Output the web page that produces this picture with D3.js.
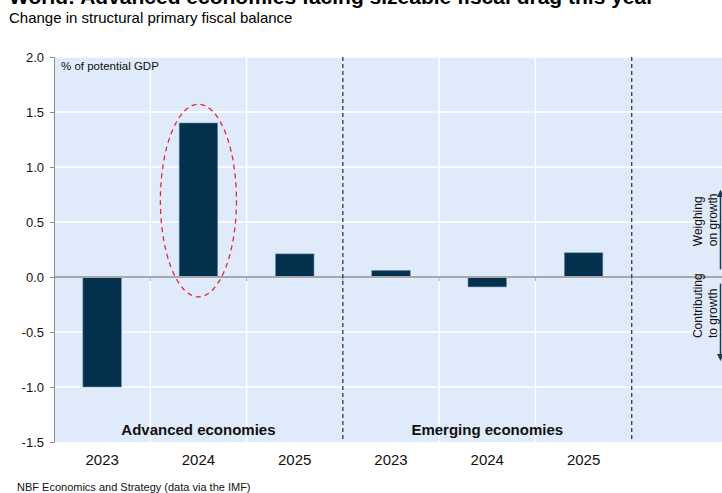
<!doctype html>
<html>
<head>
<meta charset="utf-8"/>
<title>World: Advanced economies facing sizeable fiscal drag this year</title>
<script src="https://d3js.org/d3.v7.min.js"></script>
<style>
body{margin:0;background:#fff;}
svg{display:block;font-family:"Liberation Sans",Arial,sans-serif;}
</style>
</head>
<body>
<script>
// data
var years = ["2023","2024","2025","2023","2024","2025",""];
var values = [-1.0, 1.4, 0.21, 0.06, -0.09, 0.22, null];
var groups = ["Advanced economies","Emerging economies"];
var groupSpan = [[0,3],[3,6]];   // band index range of each group
var yTicks = [-1.5,-1.0,-0.5,0.0,0.5,1.0,1.5,2.0];
var highlight = {index:1, top:1.57, bottom:-0.18};
var arrowUp = [0.07, 0.76], arrowDown = [-0.06, -0.73];
var noteUp = ["Weighing","on growth"], noteDown = ["Contributing","to growth"];
var noteBase = [0.28, -0.555];   // where the rotated notes start

var W = 722, H = 493;
var svg = d3.select("body").append("svg").attr("width", W).attr("height", H);

var pL = 54, pR = 728, pT = 57, pB = 442;
var x = d3.scaleBand().domain(d3.range(years.length)).range([pL, pR])
  .paddingInner(0.6).paddingOuter(0.3);
var step = x.step();
var edge = function(i){ return pL + i*step; };
var y = d3.scaleLinear().domain([-1.5, 2.0]).range([pB, pT]);

// titles
svg.append("text").attr("x", 9).attr("y", 4).attr("font-size", 21).attr("font-weight", "bold")
  .attr("fill", "#000").text("World: Advanced economies facing sizeable fiscal drag this year");
svg.append("text").attr("x", 9).attr("y", 23).attr("font-size", 15).attr("fill", "#000")
  .text("Change in structural primary fiscal balance");

// plot background
svg.append("rect").attr("x", pL).attr("y", pT).attr("width", pR-pL).attr("height", pB-pT)
  .attr("fill", "#dfeafb");

// horizontal grid
svg.append("g").selectAll("line").data(yTicks.filter(function(d){return d!==0 && d!==-1.5;}))
  .enter().append("line")
  .attr("x1", pL).attr("x2", pR).attr("y1", function(d){return y(d);}).attr("y2", function(d){return y(d);})
  .attr("stroke", "#fff").attr("stroke-width", 1.5);

// vertical grid at band boundaries (not where dashed separators are)
var sepIdx = [3, 6];
svg.append("g").selectAll("line").data(d3.range(1, years.length+1).filter(function(i){return sepIdx.indexOf(i) < 0;}))
  .enter().append("line")
  .attr("x1", function(i){return edge(i);}).attr("x2", function(i){return edge(i);})
  .attr("y1", pT).attr("y2", pB).attr("stroke", "#fff").attr("stroke-width", 1.5);

// bars
svg.append("g").selectAll("rect").data(values.map(function(v,i){return {v:v,i:i};}).filter(function(d){return d.v!==null;}))
  .enter().append("rect")
  .attr("x", function(d){return x(d.i);})
  .attr("width", x.bandwidth())
  .attr("y", function(d){return y(Math.max(0, d.v));})
  .attr("height", function(d){return Math.abs(y(d.v) - y(0));})
  .attr("fill", "#02304d").attr("stroke", "#6f8ea6").attr("stroke-width", 0.6);

// zero line + ticks
svg.append("line").attr("x1", pL).attr("x2", W).attr("y1", y(0)).attr("y2", y(0))
  .attr("stroke", "#a8a8a8").attr("stroke-width", 2);
svg.append("g").selectAll("line").data(d3.range(1, years.length))
  .enter().append("line")
  .attr("x1", function(i){return edge(i);}).attr("x2", function(i){return edge(i);})
  .attr("y1", y(0)).attr("y2", y(0)+4).attr("stroke", "#a8a8a8").attr("stroke-width", 1);

// dashed separators
svg.append("g").selectAll("line").data(sepIdx)
  .enter().append("line")
  .attr("x1", function(i){return edge(i);}).attr("x2", function(i){return edge(i);})
  .attr("y1", pT).attr("y2", pB)
  .attr("stroke", "#3a3a3a").attr("stroke-width", 1.3).attr("stroke-dasharray", "4,3");

// y axis
var yAxis = svg.append("g").attr("transform", "translate(" + pL + ",0)")
  .call(d3.axisLeft(y).tickValues(yTicks).tickFormat(d3.format(".1f")).tickSize(4).tickPadding(6));
yAxis.select(".domain").attr("stroke", "#8c8c8c");
yAxis.selectAll(".tick line").attr("stroke", "#8c8c8c");
yAxis.selectAll("text").attr("font-size", 13).attr("fill", "#111")
  .attr("font-family", "Liberation Sans, Arial, sans-serif")
  .text(function(d){ return d3.format(".1f")(d).replace("−","-"); });

// year labels
svg.append("g").selectAll("text").data(years)
  .enter().append("text")
  .attr("x", function(d,i){return x(i) + x.bandwidth()/2;})
  .attr("y", 465).attr("text-anchor", "middle").attr("font-size", 15).attr("fill", "#111")
  .text(function(d){return d;});

// group labels
svg.append("g").selectAll("text").data(groups)
  .enter().append("text")
  .attr("x", function(d,i){return (edge(groupSpan[i][0]) + edge(groupSpan[i][1]))/2;})
  .attr("y", 435).attr("text-anchor", "middle").attr("font-size", 15).attr("font-weight", "bold")
  .attr("fill", "#111").text(function(d){return d;});

// unit label
svg.append("text").attr("x", 61).attr("y", 70).attr("font-size", 11.5).attr("fill", "#111")
  .text("% of potential GDP");

// highlight ellipse
svg.append("ellipse")
  .attr("cx", x(highlight.index) + x.bandwidth()/2)
  .attr("cy", (y(highlight.top) + y(highlight.bottom))/2)
  .attr("rx", step*0.395)
  .attr("ry", (y(highlight.bottom) - y(highlight.top))/2)
  .attr("fill", "none").attr("stroke", "#e5283a").attr("stroke-width", 1.3).attr("stroke-dasharray", "5,4");

// right-hand annotation
var defs = svg.append("defs");
defs.append("marker").attr("id", "ah").attr("viewBox", "0 0 10 10").attr("refX", 5).attr("refY", 5)
  .attr("markerWidth", 5).attr("markerHeight", 5).attr("orient", "auto-start-reverse")
  .append("path").attr("d", "M0,0 L10,5 L0,10 z").attr("fill", "#1d3a55");
var ax = 720.5;
svg.append("line").attr("x1", ax).attr("x2", ax).attr("y1", y(arrowUp[0])).attr("y2", y(arrowUp[1]))
  .attr("stroke", "#1d3a55").attr("stroke-width", 1.5).attr("marker-end", "url(#ah)");
svg.append("line").attr("x1", ax).attr("x2", ax).attr("y1", y(arrowDown[0])).attr("y2", y(arrowDown[1]))
  .attr("stroke", "#1d3a55").attr("stroke-width", 1.5).attr("marker-end", "url(#ah)");

function vlabel(lines, base){
  lines.forEach(function(t, k){
    svg.append("text").attr("transform", "translate(" + (702 + k*15) + "," + y(base) + ") rotate(-90)")
      .attr("text-anchor", "start").attr("font-size", 12).attr("fill", "#111").text(t);
  });
}
vlabel(noteUp, noteBase[0]);
vlabel(noteDown, noteBase[1]);

// source
svg.append("text").attr("x", 17).attr("y", 491).attr("font-size", 11).attr("fill", "#111")
  .text("NBF Economics and Strategy (data via the IMF)");
</script>
</body>
</html>
